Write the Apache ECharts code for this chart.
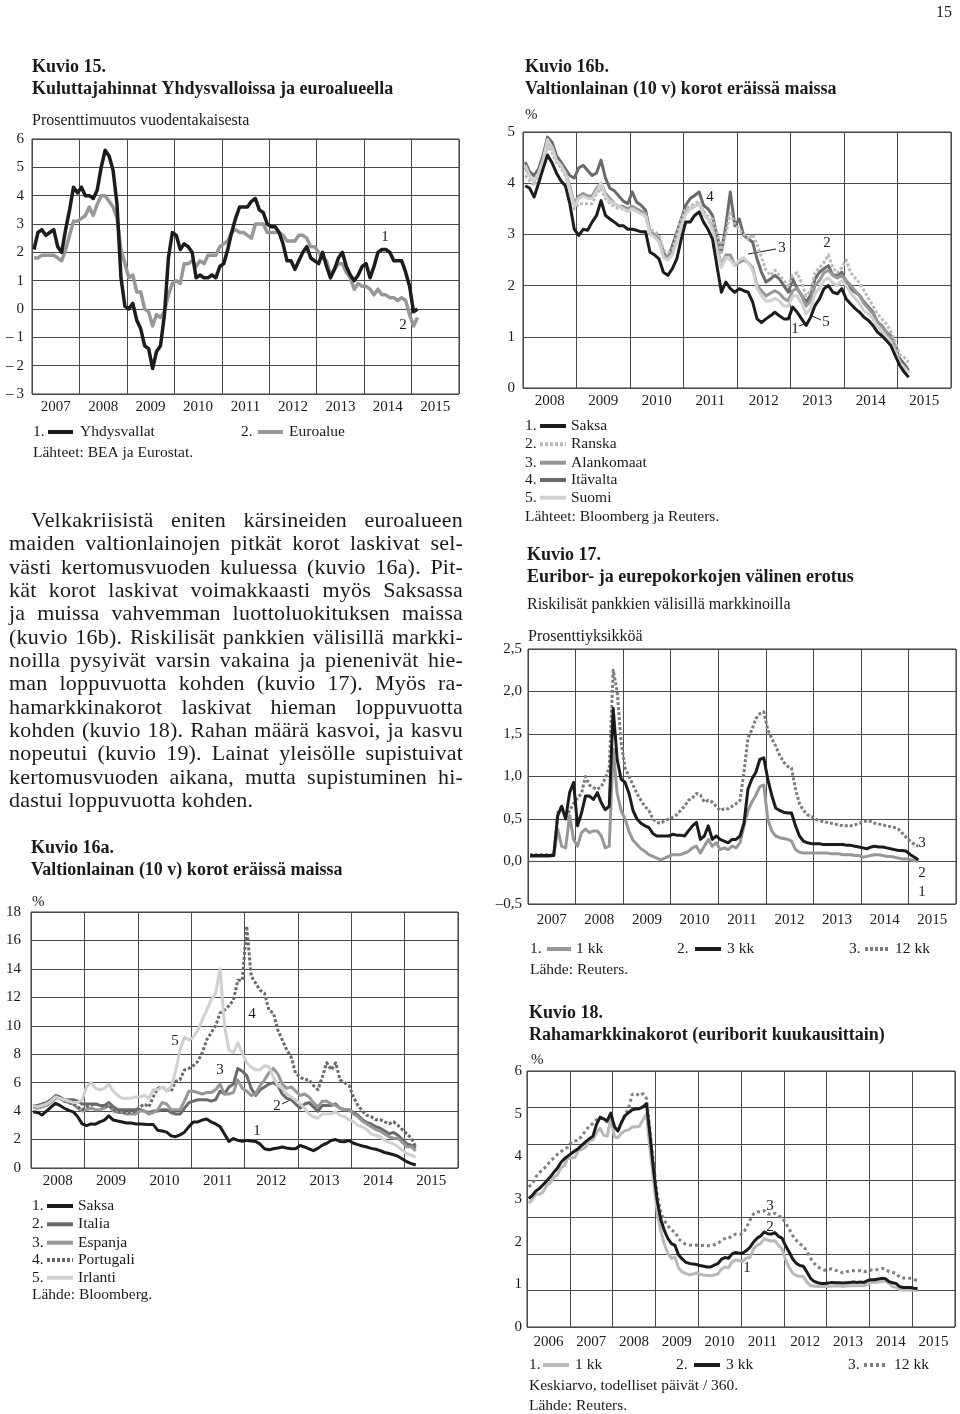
<!DOCTYPE html>
<html>
<head>
<meta charset="utf-8">
<title>Kuviot 15–18</title>
<script src="https://cdn.jsdelivr.net/npm/echarts/dist/echarts.min.js"></script>
<style>
  html, body { margin: 0; padding: 0; background: #fff; }
  #page { position: relative; width: 960px; height: 1414px; overflow: hidden; }
  #chart { position: absolute; left: 0; top: 0; width: 960px; height: 1414px; }
  .ln {
    position: absolute; left: 9px; width: 454px; height: 23.33px; line-height: 23.33px;
    font-family: "Liberation Serif", serif; font-size: 22px; letter-spacing: 0.2px; color: #1a1a1a;
    text-align: justify; text-align-last: justify; white-space: nowrap;
  }
  .ln.first { left: 31px; width: 432px; }
  .ln.last { text-align: left; text-align-last: left; }
</style>
</head>
<body>
<div id="page">
  <div id="chart"></div>
  <div class="ln first" style="top:508px">Velkakriisistä eniten kärsineiden euroalueen</div>
  <div class="ln" style="top:531.3px">maiden valtionlainojen pitkät korot laskivat sel-</div>
  <div class="ln" style="top:554.7px">västi kertomusvuoden kuluessa (kuvio 16a). Pit-</div>
  <div class="ln" style="top:578px">kät korot laskivat voimakkaasti myös Saksassa</div>
  <div class="ln" style="top:601.3px">ja muissa vahvemman luottoluokituksen maissa</div>
  <div class="ln" style="top:624.7px">(kuvio 16b). Riskilisät pankkien välisillä markki-</div>
  <div class="ln" style="top:648px">noilla pysyivät varsin vakaina ja pienenivät hie-</div>
  <div class="ln" style="top:671.3px">man loppuvuotta kohden (kuvio 17). Myös ra-</div>
  <div class="ln" style="top:694.7px">hamarkkinakorot laskivat hieman loppuvuotta</div>
  <div class="ln" style="top:718px">kohden (kuvio 18). Rahan määrä kasvoi, ja kasvu</div>
  <div class="ln" style="top:741.3px">nopeutui (kuvio 19). Lainat yleisölle supistuivat</div>
  <div class="ln" style="top:764.7px">kertomusvuoden aikana, mutta supistuminen hi-</div>
  <div class="ln last" style="top:788px">dastui loppuvuotta kohden.</div>
</div>
<script>
// ---- Kuvio 15: kuluttajahinnat, % muutos, kuukausittain 1/2007 - 2/2015
const years15 = ['2007', '2008', '2009', '2010', '2011', '2012', '2013', '2014', '2015'];
const yhdysvallat = [
  2.1, 2.7, 2.8, 2.6, 2.7, 2.8, 2.2, 2.0, 2.8, 3.5, 4.3, 4.1,
  4.3, 4.0, 4.0, 3.9, 4.2, 5.0, 5.6, 5.4, 4.9, 3.7, 1.1, 0.1,
  0.0, 0.2, -0.4, -0.7, -1.3, -1.4, -2.1, -1.5, -1.3, -0.2, 1.8, 2.7,
  2.6, 2.1, 2.3, 2.2, 2.0, 1.1, 1.2, 1.1, 1.1, 1.2, 1.1, 1.5,
  1.6, 2.1, 2.7, 3.2, 3.6, 3.6, 3.6, 3.8, 3.9, 3.5, 3.4, 3.0,
  2.9, 2.9, 2.7, 2.3, 1.7, 1.7, 1.4, 1.7, 2.0, 2.2, 1.8, 1.7,
  1.6, 2.0, 1.5, 1.1, 1.4, 1.8, 2.0, 1.5, 1.2, 1.0, 1.2, 1.5,
  1.6, 1.1, 1.5, 2.0, 2.1, 2.1, 2.0, 1.7, 1.7, 1.7, 1.3, 0.8,
  -0.1, 0.0
];
const euroalue = [
  1.8, 1.8, 1.9, 1.9, 1.9, 1.9, 1.8, 1.7, 2.1, 2.6, 3.1, 3.1,
  3.2, 3.3, 3.6, 3.3, 3.7, 4.0, 4.0, 3.8, 3.6, 3.2, 2.1, 1.6,
  1.1, 1.2, 0.6, 0.6, 0.0, -0.1, -0.6, -0.2, -0.3, -0.1, 0.5, 0.9,
  1.0, 0.9, 1.6, 1.6, 1.7, 1.5, 1.7, 1.6, 1.9, 1.9, 1.9, 2.2,
  2.3, 2.4, 2.7, 2.8, 2.7, 2.7, 2.6, 2.5, 3.0, 3.0, 3.0, 2.7,
  2.7, 2.7, 2.7, 2.6, 2.4, 2.4, 2.4, 2.6, 2.6, 2.5, 2.2, 2.2,
  2.0, 1.8, 1.7, 1.2, 1.4, 1.6, 1.6, 1.3, 1.1, 0.7, 0.9, 0.8,
  0.8, 0.7, 0.5, 0.7, 0.5, 0.5, 0.4, 0.4, 0.3, 0.4, 0.3, -0.2,
  -0.6, -0.3
];

// ---- Kuviot 16a ja 16b: 10 v valtionlainojen korot, % , 1/2008 - 3/2015
const years16 = ['2008', '2009', '2010', '2011', '2012', '2013', '2014', '2015'];
const saksa = [
  3.95, 3.9, 3.73, 4.0, 4.28, 4.55, 4.4, 4.2, 4.05, 3.95, 3.6, 3.1,
  2.98, 3.1, 3.08, 3.24, 3.37, 3.66, 3.37, 3.3, 3.24, 3.17, 3.17, 3.1,
  3.1, 3.08, 3.05, 3.05, 2.65, 2.6, 2.52, 2.26, 2.2, 2.33, 2.52, 2.91,
  3.24, 3.24, 3.37, 3.44, 3.24, 3.1, 2.91, 2.39, 1.87, 2.07, 1.94, 1.87,
  1.94, 1.9, 1.87, 1.68, 1.35, 1.28, 1.35, 1.41, 1.48, 1.41, 1.35, 1.35,
  1.58, 1.48, 1.35, 1.22, 1.38, 1.61, 1.74, 1.94, 2.0, 1.87, 1.84, 1.94,
  1.74, 1.64, 1.55, 1.48, 1.38, 1.32, 1.22, 1.09, 1.02, 0.93, 0.83, 0.63,
  0.44, 0.31, 0.21
];
const ranska = [
  4.15, 4.05, 3.95, 4.15, 4.4, 4.75, 4.6, 4.4, 4.3, 4.15, 3.9, 3.5,
  3.6, 3.6, 3.6, 3.6, 3.8, 3.9, 3.7, 3.6, 3.55, 3.5, 3.5, 3.45,
  3.5, 3.45, 3.4, 3.4, 3.1, 3.05, 3.0, 2.7, 2.65, 2.7, 3.0, 3.3,
  3.5, 3.55, 3.6, 3.65, 3.45, 3.35, 3.3, 3.05, 2.65, 3.0, 3.45, 3.2,
  3.1, 3.0, 2.9, 3.0, 2.8, 2.55, 2.3, 2.2, 2.3, 2.2, 2.1, 2.0,
  2.2, 2.25, 2.05, 1.8, 1.9, 2.25, 2.35, 2.45, 2.6, 2.35, 2.25, 2.35,
  2.5, 2.25, 2.15, 2.05, 1.9, 1.75, 1.6, 1.45, 1.35, 1.25, 1.1, 0.9,
  0.65, 0.6, 0.5
];
const alankomaat = [
  4.3, 4.15, 4.05, 4.2, 4.45, 4.8, 4.7, 4.45, 4.35, 4.2, 3.95, 3.6,
  3.75, 3.8, 3.75, 3.75, 3.9, 4.0, 3.8, 3.7, 3.6, 3.55, 3.55, 3.5,
  3.55, 3.5, 3.45, 3.4, 3.05, 3.0, 2.9, 2.6, 2.55, 2.65, 2.9, 3.2,
  3.45, 3.5, 3.55, 3.6, 3.4, 3.3, 3.15, 2.75, 2.4, 2.6, 2.6, 2.4,
  2.45, 2.5, 2.45, 2.35, 2.0, 1.9, 1.8, 1.85, 1.9, 1.85, 1.75, 1.7,
  1.9, 1.95, 1.8, 1.6, 1.7, 2.0, 2.1, 2.25, 2.3, 2.2, 2.15, 2.2,
  2.1, 2.0, 1.9, 1.8, 1.65, 1.55, 1.45, 1.3, 1.2, 1.1, 0.95, 0.75,
  0.5, 0.4, 0.3
];
const itavalta = [
  4.41, 4.22, 4.15, 4.28, 4.54, 4.9, 4.8, 4.54, 4.41, 4.28, 4.15, 4.1,
  4.3, 4.35, 4.25, 4.15, 4.2, 4.45, 4.1, 3.9, 3.85, 3.75, 3.65, 3.6,
  3.83, 3.63, 3.57, 3.47, 3.04, 2.98, 2.91, 2.65, 2.52, 2.78, 3.04, 3.3,
  3.57, 3.7, 3.76, 3.83, 3.57, 3.5, 3.37, 2.98, 2.65, 3.17, 3.83, 3.17,
  3.3, 2.98, 2.91, 2.85, 2.52, 2.26, 2.07, 2.13, 2.2, 2.13, 2.0, 1.87,
  2.13, 1.94, 1.81, 1.68, 1.81, 2.13, 2.26, 2.33, 2.39, 2.2, 2.2, 2.26,
  2.07, 1.94, 1.87, 1.81, 1.68, 1.58, 1.48, 1.28, 1.22, 1.09, 1.02, 0.8,
  0.57, 0.47, 0.34
];
const suomi = [
  4.35, 4.15, 4.05, 4.2, 4.45, 4.85, 4.7, 4.45, 4.35, 4.2, 3.9, 3.55,
  3.7, 3.75, 3.7, 3.7, 3.85, 4.0, 3.75, 3.65, 3.6, 3.55, 3.5, 3.45,
  3.5, 3.45, 3.4, 3.35, 3.0, 2.95, 2.85, 2.55, 2.5, 2.6, 2.85, 3.15,
  3.4, 3.5, 3.55, 3.6, 3.4, 3.3, 3.1, 2.7, 2.35, 2.55, 2.5, 2.4,
  2.5, 2.55, 2.45, 2.3, 1.95, 1.8, 1.7, 1.7, 1.75, 1.7, 1.6, 1.6,
  1.8, 1.8, 1.65, 1.45, 1.55, 1.85, 1.95, 2.1, 2.15, 2.05, 2.0, 2.1,
  2.0, 1.85, 1.75, 1.65, 1.5, 1.45, 1.35, 1.2, 1.1, 1.0, 0.9, 0.7,
  0.5, 0.4, 0.3
];
const italia = [
  4.4, 4.4, 4.5, 4.6, 4.8, 5.1, 5.0, 4.8, 4.8, 4.8, 4.7, 4.5,
  4.5, 4.5, 4.5, 4.4, 4.4, 4.6, 4.3, 4.1, 4.1, 4.1, 4.1, 4.1,
  4.1, 4.0, 3.9, 4.0, 4.0, 4.1, 4.1, 3.9, 3.8, 3.8, 4.2, 4.6,
  4.7, 4.8, 4.8, 4.8, 4.7, 4.8, 5.4, 5.2, 5.7, 5.9, 7.0, 6.8,
  6.5, 5.6, 5.1, 5.5, 5.7, 5.9, 6.0, 5.8, 5.2, 4.9, 4.8, 4.5,
  4.2, 4.5, 4.6, 4.3, 4.0, 4.4, 4.4, 4.4, 4.5, 4.2, 4.1, 4.1,
  3.9, 3.7, 3.4, 3.2, 3.1, 2.9, 2.8, 2.6, 2.4, 2.5, 2.3, 2.0,
  1.7, 1.6, 1.4
];
const espanja = [
  4.3, 4.2, 4.3, 4.4, 4.6, 4.9, 4.9, 4.7, 4.6, 4.5, 4.2, 4.0,
  4.1, 4.2, 4.1, 4.1, 4.2, 4.4, 4.0, 3.9, 3.9, 3.8, 3.8, 3.8,
  4.0, 4.0, 3.8, 3.9, 4.1, 4.6, 4.5, 4.1, 4.1, 4.1, 4.7, 5.4,
  5.4, 5.3, 5.2, 5.3, 5.3, 5.5, 5.9, 5.2, 5.2, 5.3, 6.2, 5.6,
  5.4, 5.1, 5.2, 5.8, 6.2, 6.7, 7.0, 6.6, 5.9, 5.6, 5.7, 5.4,
  5.1, 5.2, 5.0, 4.6, 4.3, 4.7, 4.7, 4.5, 4.4, 4.2, 4.1, 4.1,
  3.8, 3.6, 3.3, 3.1, 2.9, 2.7, 2.6, 2.4, 2.2, 2.1, 2.1, 1.8,
  1.5, 1.5, 1.2
];
const portugali = [
  4.4, 4.3, 4.4, 4.5, 4.7, 5.0, 4.9, 4.7, 4.6, 4.5, 4.3, 4.1,
  4.3, 4.4, 4.5, 4.4, 4.3, 4.4, 4.1, 4.0, 3.9, 3.9, 3.9, 4.0,
  4.3, 4.5, 4.3, 5.0, 5.6, 5.7, 5.5, 5.4, 6.1, 6.2, 6.9, 7.0,
  7.2, 7.5, 8.1, 9.0, 9.5, 10.0, 10.9, 11.1, 11.4, 11.8, 13.2, 13.2,
  17.0, 13.5, 13.0, 12.5, 12.3, 11.1, 10.9, 9.7, 9.0, 8.3, 7.8, 6.65,
  6.4, 6.2, 6.2, 5.8, 5.5, 6.4, 7.4, 6.9, 7.4, 6.2, 6.0, 5.8,
  5.0, 4.4, 4.0, 3.7, 3.6, 3.4, 3.4, 3.25, 3.1, 3.25, 3.0, 2.7,
  2.4, 2.1, 1.5
];
const irlanti = [
  4.4, 4.3, 4.4, 4.5, 4.7, 5.0, 4.9, 4.8, 4.7, 4.6, 4.6, 4.8,
  5.7, 6.0, 5.6, 5.5, 5.6, 5.9, 5.4, 5.1, 4.9, 4.9, 4.9, 5.0,
  5.0, 5.1, 4.9, 5.5, 5.5, 5.7, 5.4, 5.7, 6.8, 8.3, 9.2, 9.0,
  9.2, 9.7, 10.4, 11.1, 11.8, 12.3, 14.0, 10.0, 8.3, 8.1, 8.8, 8.1,
  7.4, 7.1, 6.9, 6.9, 7.2, 7.1, 6.4, 5.8, 5.6, 5.2, 5.0, 4.8,
  4.5, 4.2, 3.8, 3.6, 3.5, 3.8, 3.8, 3.8, 3.95, 3.7, 3.6, 3.4,
  3.25, 3.0, 2.9, 2.7, 2.4, 2.3, 2.2, 1.95, 1.8, 1.7, 1.5, 1.25,
  1.0, 0.9, 0.75
];

// ---- Kuvio 17: euribor - eurepo, prosenttiyksikköä, 1/2007 - 3/2015
const years17 = ['2007', '2008', '2009', '2010', '2011', '2012', '2013', '2014', '2015'];
const ero1kk = [
  0.06, 0.06, 0.06, 0.06, 0.06, 0.06, 0.07, 0.38, 0.18, 0.16, 0.54, 0.26,
  0.18, 0.34, 0.38, 0.34, 0.36, 0.36, 0.3, 0.16, 0.18, 1.32, 0.8, 0.6,
  0.5, 0.35, 0.25, 0.2, 0.15, 0.12, 0.08, 0.06, 0.04, 0.02, 0.04, 0.06,
  0.08, 0.08, 0.08, 0.1, 0.12, 0.16, 0.18, 0.1, 0.18, 0.26, 0.18, 0.22,
  0.14, 0.16, 0.14, 0.18, 0.16, 0.22, 0.42, 0.6, 0.7, 0.78, 0.88, 0.9,
  0.5, 0.36, 0.3, 0.28, 0.27, 0.26, 0.24, 0.14, 0.11, 0.1, 0.1, 0.1,
  0.1, 0.1, 0.1, 0.1, 0.09, 0.09, 0.09, 0.08, 0.08, 0.08, 0.07, 0.07,
  0.05, 0.06, 0.07, 0.08, 0.08, 0.07, 0.06, 0.06, 0.05, 0.04, 0.03, 0.03,
  0.02, 0.01, 0.0
];
const ero3kk = [
  0.07, 0.07, 0.07, 0.07, 0.07, 0.07, 0.07, 0.54, 0.65, 0.5, 0.81, 0.93,
  0.42, 0.57, 0.77, 0.77, 0.73, 0.81, 0.69, 0.61, 0.65, 1.8, 1.2, 0.97,
  0.93, 0.8, 0.6, 0.5, 0.45, 0.42, 0.4, 0.33, 0.3, 0.3, 0.3, 0.3,
  0.32, 0.31, 0.31, 0.3, 0.36, 0.42, 0.46, 0.26, 0.3, 0.42, 0.26, 0.3,
  0.26, 0.24, 0.22, 0.26, 0.26, 0.3, 0.45, 0.85, 0.97, 1.05, 1.2, 1.22,
  0.97, 0.78, 0.63, 0.6, 0.58, 0.57, 0.57, 0.42, 0.3, 0.24, 0.22, 0.21,
  0.21, 0.21, 0.2, 0.2, 0.2, 0.2, 0.2, 0.2, 0.19, 0.19, 0.18, 0.17,
  0.16, 0.15, 0.17, 0.18, 0.17, 0.17, 0.16, 0.15, 0.14, 0.13, 0.13, 0.12,
  0.08, 0.05, 0.02
];
const ero12kk = [
  0.08, 0.08, 0.08, 0.08, 0.08, 0.08, 0.08, 0.57, 0.65, 0.52, 0.6, 0.68,
  0.75, 0.8, 1.0, 0.9, 0.87, 0.85, 0.88, 0.98, 1.1, 2.25, 2.0, 1.4,
  1.1, 1.0, 0.9, 0.8, 0.72, 0.65, 0.6, 0.5, 0.46, 0.45, 0.48, 0.5,
  0.52, 0.55, 0.6, 0.65, 0.72, 0.75, 0.8, 0.78, 0.7, 0.72, 0.7, 0.65,
  0.6, 0.62, 0.62, 0.65, 0.68, 0.72, 1.05, 1.45, 1.55, 1.68, 1.74, 1.76,
  1.55, 1.45, 1.36, 1.25, 1.17, 1.12, 1.1, 0.85, 0.68, 0.6, 0.55, 0.53,
  0.5, 0.48, 0.47, 0.46, 0.45, 0.44, 0.43, 0.42, 0.42, 0.42, 0.43, 0.45,
  0.46, 0.48, 0.47, 0.45, 0.44, 0.43, 0.42, 0.41, 0.4, 0.38, 0.33, 0.28,
  0.24, 0.2, 0.18
];

// ---- Kuvio 18: euriborit kuukausittain, %, 1/2006 - 2/2015
const years18 = ['2006', '2007', '2008', '2009', '2010', '2011', '2012', '2013', '2014', '2015'];
const euribor1kk = [
  2.39, 2.48, 2.64, 2.63, 2.69, 2.87, 2.94, 3.09, 3.16, 3.35, 3.42, 3.64,
  3.62, 3.65, 3.84, 3.86, 3.92, 4.10, 4.11, 4.31, 4.43, 4.24, 4.22, 4.71,
  4.20, 4.18, 4.30, 4.37, 4.39, 4.47, 4.47, 4.49, 4.66, 4.83, 3.84, 2.99,
  2.14, 1.63, 1.27, 1.01, 0.88, 0.91, 0.61, 0.51, 0.46, 0.43, 0.44, 0.48,
  0.44, 0.42, 0.41, 0.40, 0.42, 0.45, 0.58, 0.64, 0.62, 0.78, 0.83, 0.81,
  0.79, 0.89, 0.90, 1.13, 1.24, 1.28, 1.42, 1.37, 1.35, 1.36, 1.23, 1.14,
  0.84, 0.63, 0.47, 0.41, 0.39, 0.38, 0.22, 0.13, 0.12, 0.11, 0.11, 0.11,
  0.11, 0.12, 0.12, 0.12, 0.11, 0.12, 0.13, 0.13, 0.13, 0.13, 0.13, 0.17,
  0.22, 0.22, 0.23, 0.25, 0.26, 0.19, 0.10, 0.09, 0.02, 0.01, 0.01, 0.02,
  0.01, -0.01
];
const euribor3kk = [
  2.51, 2.60, 2.72, 2.79, 2.89, 2.99, 3.10, 3.23, 3.34, 3.50, 3.60, 3.68,
  3.75, 3.82, 3.89, 3.98, 4.07, 4.15, 4.22, 4.54, 4.74, 4.69, 4.64, 4.85,
  4.48, 4.36, 4.60, 4.78, 4.86, 4.94, 4.96, 4.97, 5.02, 5.11, 4.24, 3.29,
  2.46, 1.94, 1.64, 1.42, 1.28, 1.23, 0.97, 0.86, 0.77, 0.74, 0.72, 0.71,
  0.68, 0.66, 0.64, 0.64, 0.69, 0.73, 0.85, 0.90, 0.88, 1.00, 1.04, 1.02,
  1.02, 1.09, 1.18, 1.32, 1.43, 1.49, 1.60, 1.55, 1.54, 1.58, 1.48, 1.43,
  1.22, 1.05, 0.86, 0.74, 0.68, 0.66, 0.50, 0.33, 0.25, 0.21, 0.19, 0.19,
  0.20, 0.22, 0.21, 0.21, 0.20, 0.21, 0.22, 0.23, 0.22, 0.23, 0.22, 0.27,
  0.29, 0.29, 0.31, 0.33, 0.32, 0.24, 0.21, 0.19, 0.10, 0.08, 0.08, 0.08,
  0.06, 0.05
];
const euribor12kk = [
  2.83, 2.91, 3.11, 3.22, 3.31, 3.40, 3.54, 3.62, 3.72, 3.80, 3.86, 3.92,
  4.06, 4.09, 4.11, 4.25, 4.37, 4.51, 4.56, 4.67, 4.73, 4.65, 4.61, 4.79,
  4.50, 4.35, 4.59, 4.82, 4.99, 5.36, 5.39, 5.32, 5.38, 5.25, 4.35, 3.45,
  2.62, 2.14, 1.91, 1.77, 1.64, 1.61, 1.41, 1.33, 1.26, 1.24, 1.23, 1.24,
  1.23, 1.23, 1.22, 1.23, 1.25, 1.28, 1.37, 1.42, 1.42, 1.50, 1.54, 1.53,
  1.55, 1.71, 1.92, 2.09, 2.15, 2.14, 2.18, 2.10, 2.07, 2.11, 2.04, 2.00,
  1.84, 1.68, 1.50, 1.37, 1.27, 1.22, 1.06, 0.88, 0.74, 0.65, 0.59, 0.55,
  0.58, 0.59, 0.55, 0.53, 0.48, 0.51, 0.53, 0.54, 0.54, 0.54, 0.51, 0.54,
  0.56, 0.55, 0.58, 0.60, 0.59, 0.51, 0.49, 0.47, 0.36, 0.34, 0.34, 0.33,
  0.30, 0.26
];

const FONT = 'Liberation Serif';
const INK = '#1a1a1a';
const GRIDC = '#4a4a4a';
const TITLE = 18;
const SMALL = 15.5;

// kuukausiarvo keskelle kuukautta
function monthly(startYear, values) {
  return values.map((v, i) => [startYear + (i + 0.5) / 12, v]);
}

function catAxis(grid, cats, margin) {
  return {
    type: 'category', gridIndex: grid, data: cats, boundaryGap: true,
    axisLine: { show: false }, axisTick: { show: false },
    axisLabel: { interval: 0, margin: margin, fontFamily: FONT, fontSize: 15, color: INK },
    splitLine: { show: true, interval: 0, lineStyle: { color: GRIDC, width: 1 } }
  };
}
function timeAxis(grid, min, max) {
  return { type: 'value', gridIndex: grid, min: min, max: max, show: false };
}
function valAxis(grid, min, max, step, margin, fmt, opts) {
  const o = {
    type: 'value', gridIndex: grid, position: 'left', offset: 0,
    min: min, max: max, interval: step,
    axisLine: { show: false }, axisTick: { show: false },
    axisLabel: { margin: margin, fontFamily: FONT, fontSize: 15, color: INK, formatter: fmt },
    splitLine: { show: true, lineStyle: { color: GRIDC, width: 1 } }
  };
  return Object.assign(o, opts || {});
}
function line(name, xi, yi, data, color, width, dash) {
  return {
    name: name, type: 'line', xAxisIndex: xi, yAxisIndex: yi, data: data,
    showSymbol: false, symbol: 'none', silent: true, animation: false,
    lineStyle: { color: color, width: width, type: dash || 'solid', join: 'round' }
  };
}
function txt(x, y, s, size, bold, align) {
  return {
    type: 'text', x: x, y: y, silent: true,
    style: {
      text: s, fontFamily: FONT, fontSize: size, fontWeight: bold ? 'bold' : 'normal',
      fill: INK, align: align || 'left', verticalAlign: 'middle',
      textAlign: align || 'left', textVerticalAlign: 'middle'
    }
  };
}
function seg(x1, y1, x2, y2, color, w, dash) {
  return {
    type: 'line', silent: true, shape: { x1: x1, y1: y1, x2: x2, y2: y2 },
    style: { stroke: color, lineWidth: w, lineDash: dash || null }
  };
}
function legendRow(x, y, num, label, color, dash, lineX1, lineX2, textX) {
  return [txt(x, y, num, SMALL), seg(lineX1, y, lineX2, y, color, 4, dash), txt(textX, y, label, SMALL)];
}

const minusFmt = v => (v < 0 ? '\u2013\u2009' + (-v) : String(v));
const commaFmt = v => (v < 0 ? '\u2013' : '') + Math.abs(v).toFixed(1).replace('.', ',');

const C = {
  black: '#1c1c1c', dark: '#6a6a6a', mid: '#979797', light: '#b9b9b9', pale: '#d0d0d0'
};

const graphics = [].concat(
  [txt(952, 13, '15', 16, false, 'right')],
  // Kuvio 15
  [
    txt(32, 67, 'Kuvio 15.', TITLE, true),
    txt(32, 89, 'Kuluttajahinnat Yhdysvalloissa ja euroalueella', TITLE, true),
    txt(32, 121, 'Prosenttimuutos vuodentakaisesta', 16),
    txt(385, 237, '1', 15, false, 'center'),
    txt(403, 325, '2', 15, false, 'center'),
    txt(33, 453, 'Lähteet: BEA ja Eurostat.', SMALL)
  ],
  legendRow(33, 432, '1.', 'Yhdysvallat', C.black, null, 48, 73, 80),
  legendRow(241, 432, '2.', 'Euroalue', C.mid, null, 258, 283, 289),
  // Kuvio 16b
  [
    txt(525, 67, 'Kuvio 16b.', TITLE, true),
    txt(525, 89, 'Valtionlainan (10 v) korot eräissä maissa', TITLE, true),
    txt(525, 115, '%', 15),
    txt(710, 197, '4', 15, false, 'center'),
    txt(782, 248, '3', 15, false, 'center'),
    seg(748, 254, 776, 249, INK, 1),
    txt(827, 243, '2', 15, false, 'center'),
    txt(826, 322, '5', 15, false, 'center'),
    seg(810, 315, 821, 320, INK, 1),
    txt(795, 329, '1', 15, false, 'center'),
    seg(799, 326, 807, 323, INK, 1),
    txt(525, 517, 'Lähteet: Bloomberg ja Reuters.', SMALL)
  ],
  legendRow(525, 426, '1.', 'Saksa', C.black, null, 540, 566, 571),
  legendRow(525, 444.3, '2.', 'Ranska', C.light, [3, 2], 540, 566, 571),
  legendRow(525, 462.7, '3.', 'Alankomaat', C.mid, null, 540, 566, 571),
  legendRow(525, 480, '4.', 'Itävalta', C.dark, null, 540, 566, 571),
  legendRow(525, 497.7, '5.', 'Suomi', C.pale, null, 540, 566, 571),
  // Kuvio 17
  [
    txt(527, 555, 'Kuvio 17.', TITLE, true),
    txt(527, 577, 'Euribor- ja eurepokorkojen välinen erotus', TITLE, true),
    txt(527, 605, 'Riskilisät pankkien välisillä markkinoilla', 16),
    txt(528, 637, 'Prosenttiyksikköä', 16),
    txt(922, 843, '3', 15, false, 'center'),
    txt(922, 873, '2', 15, false, 'center'),
    txt(922, 892, '1', 15, false, 'center'),
    txt(530, 970, 'Lähde: Reuters.', SMALL)
  ],
  legendRow(530, 949, '1.', '1 kk', C.mid, null, 547, 571, 576),
  legendRow(677, 949, '2.', '3 kk', C.black, null, 695, 721, 727),
  legendRow(849, 949, '3.', '12 kk', '#7c7c7c', [3, 2], 865, 890, 895),
  // Kuvio 16a
  [
    txt(31, 848, 'Kuvio 16a.', TITLE, true),
    txt(31, 870, 'Valtionlainan (10 v) korot eräissä maissa', TITLE, true),
    txt(32, 902, '%', 15),
    txt(175, 1041, '5', 15, false, 'center'),
    txt(220, 1070, '3', 15, false, 'center'),
    txt(252, 1014, '4', 15, false, 'center'),
    txt(277, 1106, '2', 15, false, 'center'),
    seg(282, 1104, 290, 1100, INK, 1),
    txt(257, 1131, '1', 15, false, 'center'),
    txt(32, 1295, 'Lähde: Bloomberg.', SMALL)
  ],
  legendRow(32, 1206, '1.', 'Saksa', C.black, null, 47, 73, 78),
  legendRow(32, 1224.3, '2.', 'Italia', C.dark, null, 47, 73, 78),
  legendRow(32, 1242.7, '3.', 'Espanja', C.mid, null, 47, 73, 78),
  legendRow(32, 1260, '4.', 'Portugali', C.dark, [3, 2], 47, 73, 78),
  legendRow(32, 1277.7, '5.', 'Irlanti', C.pale, null, 47, 73, 78),
  // Kuvio 18
  [
    txt(529, 1013.5, 'Kuvio 18.', TITLE, true),
    txt(529, 1035, 'Rahamarkkinakorot (euriborit kuukausittain)', TITLE, true),
    txt(531, 1060, '%', 15),
    txt(770, 1206, '3', 15, false, 'center'),
    txt(770, 1227, '2', 15, false, 'center'),
    txt(747, 1268, '1', 15, false, 'center'),
    txt(529, 1386, 'Keskiarvo, todelliset päivät / 360.', SMALL),
    txt(529, 1406, 'Lähde: Reuters.', SMALL)
  ],
  legendRow(529, 1365, '1.', '1 kk', C.light, null, 543, 569, 575),
  legendRow(676, 1365, '2.', '3 kk', C.black, null, 694, 720, 726),
  legendRow(848, 1365, '3.', '12 kk', '#808080', [3, 3], 864, 888, 894)
);

const gridBase = { show: true, borderColor: '#333', borderWidth: 1, containLabel: false };

const option = {
  animation: false,
  backgroundColor: 'transparent',
  grid: [
    Object.assign({ left: 32, top: 139, width: 427, height: 255 }, gridBase),   // 15
    Object.assign({ left: 523, top: 132, width: 428, height: 256 }, gridBase),  // 16b
    Object.assign({ left: 528, top: 649, width: 428, height: 255 }, gridBase),  // 17
    Object.assign({ left: 31, top: 912, width: 427, height: 256 }, gridBase),   // 16a
    Object.assign({ left: 527, top: 1071, width: 428, height: 256 }, gridBase)  // 18
  ],
  xAxis: [
    catAxis(0, years15, 6),
    catAxis(1, years16, 6),
    catAxis(2, years17, 9),
    catAxis(3, years16, 6),
    catAxis(4, years18, 8),
    timeAxis(0, 2007, 2016),
    timeAxis(1, 2008, 2016),
    timeAxis(2, 2007, 2016),
    timeAxis(3, 2008, 2016),
    timeAxis(4, 2006, 2016)
  ],
  yAxis: [
    valAxis(0, -3, 6, 1, 8, minusFmt),
    valAxis(1, 0, 5, 1, 8, null),
    valAxis(2, -0.5, 2.5, 0.5, 6, commaFmt),
    valAxis(3, 0, 18, 2, 10, null),
    // Kuvio 18: ruudukko ja käyrät asteikolla -1...6, merkityt luvut 0...6
    valAxis(4, -1, 6, 1, 5, null, { axisLabel: { show: false } }),
    valAxis(4, 0, 6, 1, 5, null, { splitLine: { show: false } })
  ],
  series: [
    line('Euroalue', 5, 0, monthly(2007, euroalue), C.mid, 3.5),
    line('Yhdysvallat', 5, 0, monthly(2007, yhdysvallat), C.black, 3.5),

    line('Itävalta', 6, 1, monthly(2008, itavalta), C.dark, 3),
    line('Alankomaat', 6, 1, monthly(2008, alankomaat), C.mid, 3),
    line('Ranska', 6, 1, monthly(2008, ranska), C.light, 3, [3, 2]),
    line('Suomi', 6, 1, monthly(2008, suomi), C.pale, 3),
    line('Saksa', 6, 1, monthly(2008, saksa), C.black, 3),

    line('12 kk', 7, 2, monthly(2007, ero12kk), '#7c7c7c', 3, [3, 2]),
    line('1 kk', 7, 2, monthly(2007, ero1kk), C.mid, 3),
    line('3 kk', 7, 2, monthly(2007, ero3kk), C.black, 3),

    line('Italia', 8, 3, monthly(2008, italia), C.dark, 3),
    line('Espanja', 8, 3, monthly(2008, espanja), C.mid, 3),
    line('Portugali', 8, 3, monthly(2008, portugali), C.dark, 3, [3, 2]),
    line('Irlanti', 8, 3, monthly(2008, irlanti), C.pale, 3),
    line('Saksa', 8, 3, monthly(2008, saksa), C.black, 3),

    line('12 kk', 9, 4, monthly(2006, euribor12kk), '#808080', 3, [3, 3]),
    line('1 kk', 9, 4, monthly(2006, euribor1kk), C.light, 3),
    line('3 kk', 9, 4, monthly(2006, euribor3kk), C.black, 3)
  ],
  graphic: graphics
};

const chart = echarts.init(document.getElementById('chart'));
chart.setOption(option);
</script>
</body>
</html>
